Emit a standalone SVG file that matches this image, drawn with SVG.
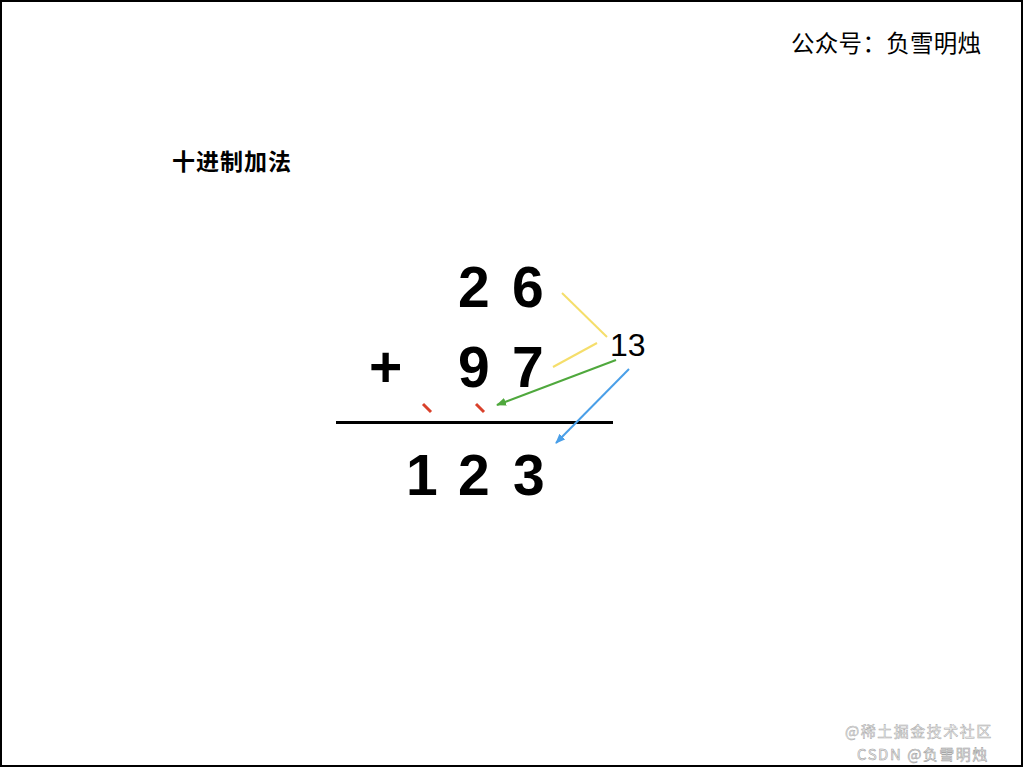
<svg xmlns="http://www.w3.org/2000/svg" width="1024" height="768" viewBox="0 0 1024 768">
<style>
.cjk{font-family:"Noto Sans CJK SC","Noto Sans",sans-serif;fill:#000}
.dig{font-family:"Liberation Sans",Arial,sans-serif;font-weight:bold;font-size:57px;fill:#000}
.ln{stroke-width:2;fill:none}
.wm{font-family:"Noto Sans CJK SC","Liberation Sans",sans-serif;font-size:15px;letter-spacing:1.5px}
</style>
<defs>
<marker id="ag" markerWidth="10" markerHeight="10" refX="9" refY="5" orient="auto" markerUnits="userSpaceOnUse"><path d="M0,1 L10,5 L0,9 z" fill="#4FA83D"/></marker>
<marker id="ab" markerWidth="10" markerHeight="10" refX="9" refY="5" orient="auto" markerUnits="userSpaceOnUse"><path d="M0,1 L10,5 L0,9 z" fill="#4A9FE8"/></marker>
</defs>
<rect x="1" y="1" width="1021" height="765" fill="#fff" stroke="#000" stroke-width="2"/>
<g id="header"><text class="cjk" x="791" y="52" font-size="23.5" letter-spacing="0.3">公众号：负雪明烛</text></g>
<g id="title"><text class="cjk" x="172" y="170" font-size="23" font-weight="bold" letter-spacing="1">十进制加法</text></g>
<g id="row1">
<text class="dig" x="458" y="307">2</text>
<text class="dig" x="512" y="307">6</text>
</g>
<g id="row2">
<text class="dig" x="369" y="387">+</text>
<text class="dig" x="458" y="387">9</text>
<text class="dig" x="512" y="387">7</text>
</g>
<g id="carries">
<line x1="423" y1="404" x2="431" y2="412" stroke="#D9412B" stroke-width="3"/>
<line x1="476" y1="404" x2="484" y2="412" stroke="#D9412B" stroke-width="3"/>
</g>
<g id="rule"><line x1="336" y1="422.5" x2="613" y2="422.5" stroke="#000" stroke-width="3"/></g>
<g id="row3">
<text class="dig" x="406" y="495">1</text>
<text class="dig" x="458" y="495">2</text>
<text class="dig" x="513" y="495">3</text>
</g>
<g id="sum"><text x="610" y="356" font-family="Liberation Sans,Arial,sans-serif" font-size="32" fill="#000">13</text></g>
<g id="connectors">
<line class="ln" x1="562" y1="293" x2="607" y2="337" stroke="#F5DE6B"/>
<line class="ln" x1="553" y1="367" x2="597" y2="343" stroke="#F5DE6B"/>
<line class="ln" x1="616" y1="360" x2="497" y2="405" stroke="#4FA83D" marker-end="url(#ag)"/>
<line class="ln" x1="629" y1="369" x2="556" y2="443" stroke="#4A9FE8" marker-end="url(#ab)"/>
</g>
<g id="watermark">
<text class="wm" x="845" y="737" fill="#f4f4f4" stroke="#aaa" stroke-width="0.5">@稀土掘金技术社区</text>
<text class="wm" x="857" y="760" fill="#f0f0f0" stroke="#999" stroke-width="0.5">CSDN @负雪明烛</text>
</g>
</svg>
